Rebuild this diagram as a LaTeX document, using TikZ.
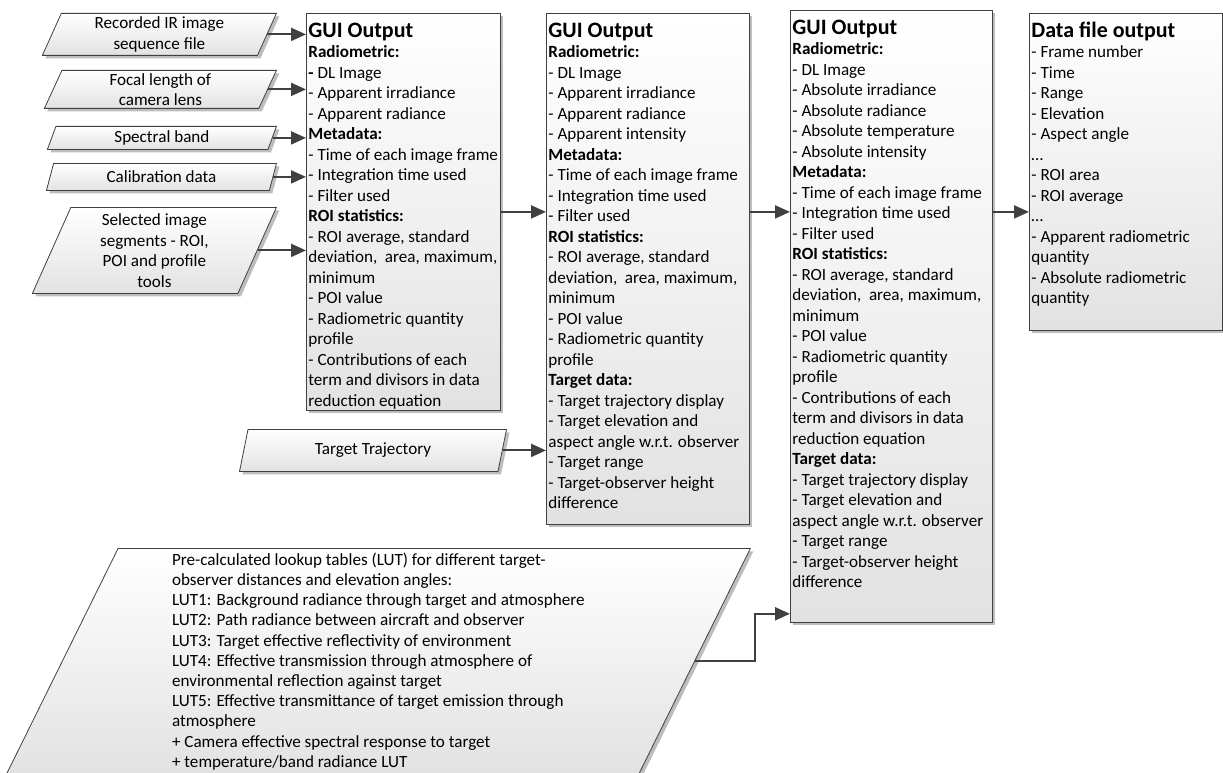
\documentclass[tikz,border=0pt]{standalone}
\usepackage{fontspec}
\setmainfont{Carlito}
\usetikzlibrary{shapes,shadows,arrows.meta}

\definecolor{linegray}{HTML}{404040}
\definecolor{boxgray}{HTML}{E2E2E2}
\definecolor{shadowgray}{HTML}{BDBDBD}

\begin{document}
\begin{tikzpicture}[x=1pt,y=-1pt,
  txt/.style={font=\fontsize{17.1}{20.5}\selectfont},
  inbox/.style={txt,trapezium,trapezium left angle=63,trapezium right angle=117,
    trapezium stretches body,draw=linegray,line width=0.8pt,top color=white,bottom color=boxgray,
    drop shadow={shadow xshift=3pt,shadow yshift=-3pt,fill=shadowgray,opacity=1},
    align=center,inner sep=1pt,anchor=top right corner},
  outbox/.style={txt,rectangle,draw=linegray,line width=0.8pt,top color=white,bottom color=boxgray,
    drop shadow={shadow xshift=3pt,shadow yshift=-3pt,fill=shadowgray,opacity=1},
    inner xsep=2pt,inner ysep=0pt,anchor=north west},
  arr/.style={draw=linegray,line width=2pt,-{Triangle[length=15pt,width=13pt]}}]
\useasboundingbox (0,0) rectangle (1223,773);

% inputs
\node[inbox,minimum width=234pt,minimum height=42pt] (rec) at (277,13) {Recorded IR image\\sequence file};
\node[inbox,minimum width=232pt,minimum height=38pt] (focal) at (277,70) {Focal length of\\camera lens};
\node[inbox,minimum width=229pt,minimum height=23pt] (band) at (277,126) {Spectral band};
\node[inbox,minimum width=230pt,minimum height=27pt] (calib) at (277,163) {Calibration data};
\node[inbox,minimum width=244pt,minimum height=86pt] (roi) at (277,207) {Selected image\\segments - ROI,\\POI and profile\\tools};
\node[inbox,minimum width=267pt,minimum height=42pt] (traj) at (507,429) {Target Trajectory};
\node[inbox,minimum width=744pt,minimum height=226pt,align=left,
  font=\fontsize{17.1}{20.2}\selectfont] (lut) at (751,548) {Pre-calculated lookup tables (LUT) for different target-\\
observer distances and elevation angles:\\
LUT1: Background radiance through target and atmosphere\\
LUT2: Path radiance between aircraft and observer\\
LUT3: Target effective reflectivity of environment\\
LUT4: Effective transmission through atmosphere of\\
environmental reflection against target\\
LUT5: Effective transmittance of target emission through\\
atmosphere\\
+ Camera effective spectral response to target\\
+ temperature/band radiance LUT};

% outputs
\node[outbox] (gui1) at (306,13) {\parbox[t][397pt][t]{190pt}{\raggedright
\rule{0pt}{24pt}{\fontsize{22}{22}\selectfont\bfseries GUI Output}\\
\textbf{Radiometric:}\\
\textbf{-} DL Image\\
- Apparent irradiance\\
- Apparent radiance\\
\textbf{Metadata:}\\
- Time of each image frame\\
- Integration time used\\
- Filter used\\
\textbf{ROI statistics:}\\
- ROI average, standard\\
deviation, \ area, maximum,\\
minimum\\
- POI value\\
- Radiometric quantity\\
profile\\
- Contributions of each\\
term and divisors in data\\
reduction equation}};

\node[outbox] (gui2) at (546,13) {\parbox[t][511pt][t]{199pt}{\raggedright
\rule{0pt}{24pt}{\fontsize{22}{22}\selectfont\bfseries GUI Output}\\
\textbf{Radiometric:}\\
- DL Image\\
- Apparent irradiance\\
- Apparent radiance\\
- Apparent intensity\\
\textbf{Metadata:}\\
- Time of each image frame\\
- Integration time used\\
- Filter used\\
\textbf{ROI statistics:}\\
- ROI average, standard\\
deviation, \ area, maximum,\\
minimum\\
- POI value\\
- Radiometric quantity\\
profile\\
\textbf{Target data:}\\
- Target trajectory display\\
- Target elevation and\\
aspect angle w.r.t. observer\\
- Target range\\
- Target-observer height\\
difference}};

\node[outbox] (gui3) at (790,10) {\parbox[t][612pt][t]{198pt}{\raggedright
\rule{0pt}{24pt}{\fontsize{22}{22}\selectfont\bfseries GUI Output}\\
\textbf{Radiometric:}\\
- DL Image\\
- Absolute irradiance\\
- Absolute radiance\\
- Absolute temperature\\
- Absolute intensity\\
\textbf{Metadata:}\\
- Time of each image frame\\
- Integration time used\\
- Filter used\\
\textbf{ROI statistics:}\\
- ROI average, standard\\
deviation, \ area, maximum,\\
minimum\\
- POI value\\
- Radiometric quantity\\
profile\\
- Contributions of each\\
term and divisors in data\\
reduction equation\\
\textbf{Target data:}\\
- Target trajectory display\\
- Target elevation and\\
aspect angle w.r.t. observer\\
- Target range\\
- Target-observer height\\
difference}};

\node[outbox] (data) at (1029,13) {\parbox[t][317pt][t]{189pt}{\raggedright
\rule{0pt}{24pt}{\fontsize{22}{22}\selectfont\bfseries Data file output}\\
- Frame number\\
- Time\\
- Range\\
- Elevation\\
- Aspect angle\\
…\\
- ROI area\\
- ROI average\\
…\\
- Apparent radiometric\\
quantity\\
- Absolute radiometric\\
quantity}};

% connectors
\draw[arr] (rec.east) -- (rec.east -| gui1.west);
\draw[arr] (focal.east) -- (focal.east -| gui1.west);
\draw[arr] (band.east) -- (band.east -| gui1.west);
\draw[arr] (calib.east) -- (calib.east -| gui1.west);
\draw[arr] (roi.east) -- (roi.east -| gui1.west);
\draw[arr] (gui1.east) -- (gui1.east -| gui2.west);
\draw[arr] (gui1.east -| gui2.east) -- (gui1.east -| gui3.west);
\draw[arr] (gui1.east -| gui3.east) -- (gui1.east -| data.west);
\draw[arr] (traj.east) -- (traj.east -| gui2.west);
\draw[arr] (lut.east) -- ++(60,0) |- ([yshift=9pt]gui3.south west);
\end{tikzpicture}
\end{document}
